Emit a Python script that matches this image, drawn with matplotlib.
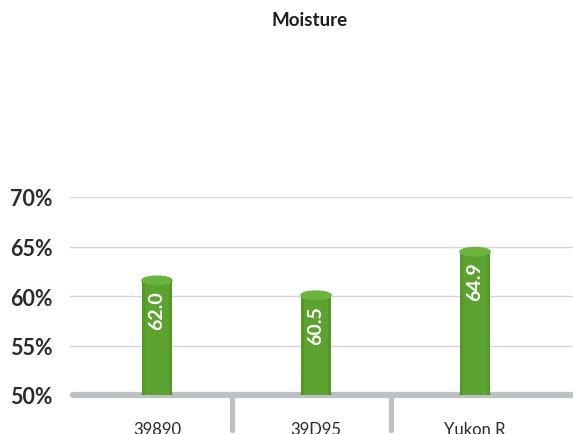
"""Moisture cylinder bar chart."""
import matplotlib
matplotlib.use('Agg')
from matplotlib import pyplot as plt
from matplotlib.patches import Rectangle, Ellipse

categories = ['39890', '39D95', 'Yukon R']
moisture = [62.0, 60.5, 64.9]
y_ticks = [50, 55, 60, 65, 70]

plt.rcParams['font.family'] = ['Lato', 'DejaVu Sans']

fig = plt.figure(figsize=(5.73, 4.35), dpi=100)
ax = fig.add_axes([70 / 573, 39 / 435, 503 / 573, 198 / 435])
ax.set_xlim(-0.547, 2.616)
ax.set_ylim(50, 70)

for side in ax.spines.values():
    side.set_visible(False)
ax.set_xticks([])
ax.set_yticks(y_ticks)
ax.set_yticklabels([f'{t}%' for t in y_ticks], fontsize=15.5, fontweight='bold',
                   color='#2b2b2b', ha='left')
ax.tick_params(axis='y', length=0, pad=43)

for t in y_ticks[1:]:
    ax.axhline(t, color='#d4d6d7', lw=1, zorder=1)
ax.plot([-0.53, 2.62], [50, 50], color='#bcc1c3', lw=4.5,
        solid_capstyle='round', zorder=2, clip_on=False)
for sep in [0.47, 1.47]:
    ax.plot([sep, sep], [50, 46.5], color='#bcc1c3', lw=3.8,
            solid_capstyle='round', zorder=2, clip_on=False)

bar_w = 0.19
cap_h = 0.85
for i, (name, val) in enumerate(zip(categories, moisture)):
    x0 = i - bar_w / 2
    top = val - cap_h / 2
    ax.add_patch(Ellipse((i, 50), bar_w, cap_h, color='#559a2a', zorder=3))
    ax.add_patch(Rectangle((x0, 50), bar_w, top - 50, color='#5ca22f',
                           zorder=3, lw=0))
    ax.add_patch(Rectangle((x0, 50), bar_w * 0.1, top - 50,
                           color='#54982a', zorder=3, lw=0))
    ax.add_patch(Rectangle((x0 + bar_w * 0.9, 50), bar_w * 0.1, top - 50,
                           color='#54982a', zorder=3, lw=0))
    ax.add_patch(Ellipse((i, top), bar_w, cap_h, color='#6cb33d', zorder=4))
    ax.annotate(f'{val:.1f}', (i, val), xytext=(0, -10),
                textcoords='offset points', rotation=90, ha='center',
                va='top', color='white', fontsize=14, fontweight='bold',
                zorder=5)
    ax.text(i, 47.4, name, ha='center', va='top', fontsize=12,
            color='#2b2b2b', clip_on=False)

fig.text(0.541, 0.954, 'Moisture', ha='center', va='center', fontsize=13.5,
         fontweight='bold', color='#1e1e1e')

fig.savefig('out.png', dpi=100)
